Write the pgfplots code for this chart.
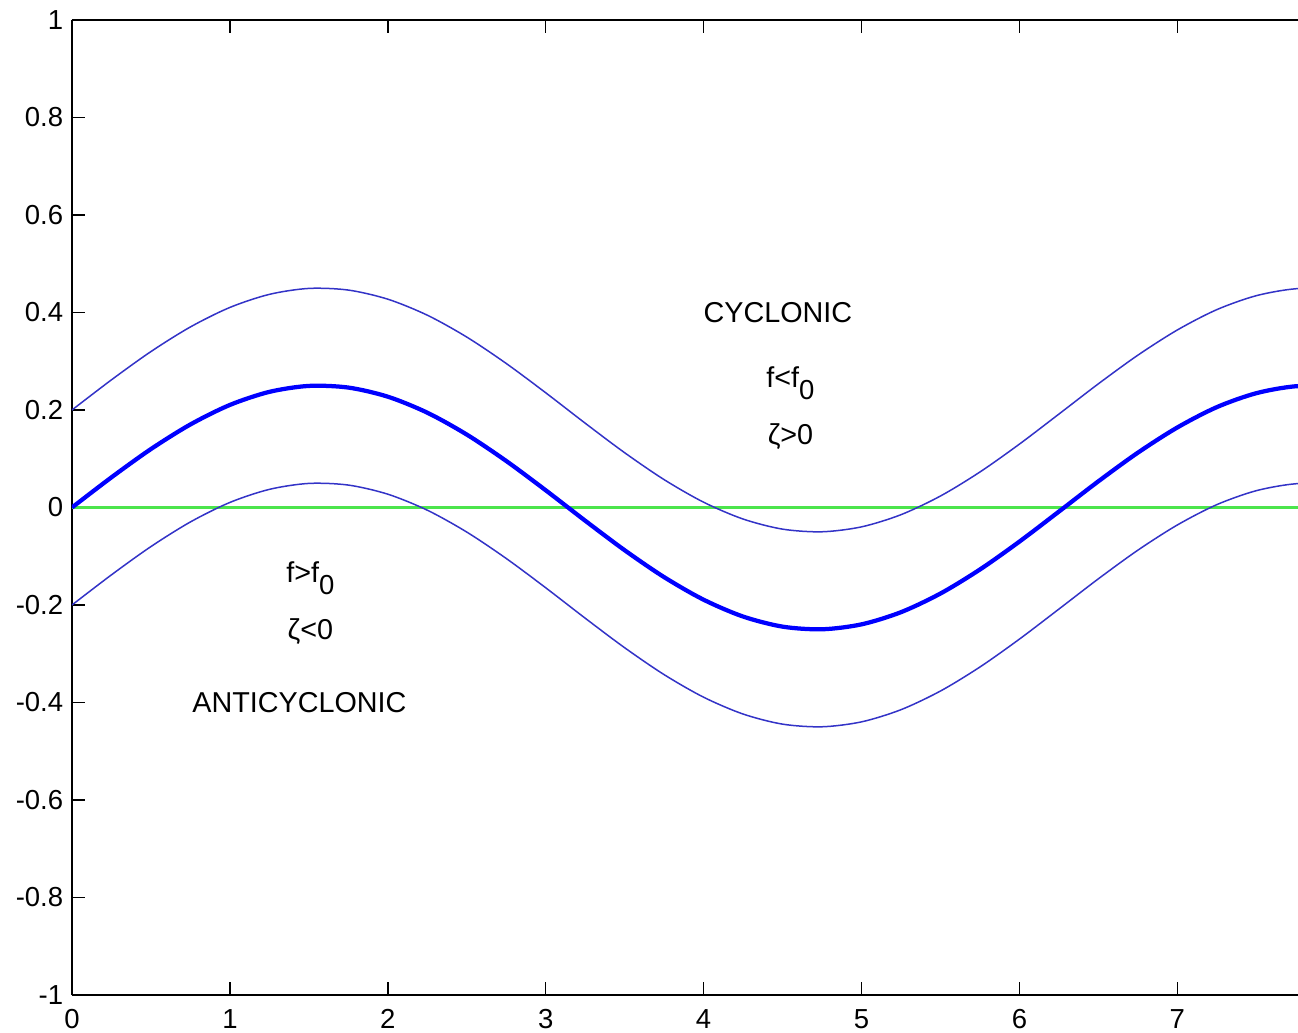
\documentclass[border=0pt]{standalone}
\usepackage{pgfplots}
\usepackage{pgfplotstable}
\usepackage{fontspec}
\setmainfont{Liberation Sans}
\pgfplotsset{compat=1.18}

\pgfplotstableread{
x     mid     up      low
0     0       0.2     -0.2
0.25  0.0619  0.2619  -0.1381
0.5   0.1199  0.3199  -0.0801
0.75  0.1704  0.3704  -0.0296
1.0   0.2104  0.4104  0.0104
1.25  0.2372  0.4372  0.0372
1.5   0.2494  0.4494  0.0494
1.75  0.2460  0.4460  0.0460
2.0   0.2273  0.4273  0.0273
2.25  0.1945  0.3945  -0.0055
2.5   0.1496  0.3496  -0.0504
2.75  0.0954  0.2954  -0.1046
3.0   0.0353  0.2353  -0.1647
3.25  -0.0271 0.1729  -0.2271
3.5   -0.0877 0.1123  -0.2877
3.75  -0.1429 0.0571  -0.3429
4.0   -0.1892 0.0108  -0.3892
4.25  -0.2237 -0.0237 -0.4237
4.5   -0.2444 -0.0444 -0.4444
4.75  -0.2498 -0.0498 -0.4498
5.0   -0.2397 -0.0397 -0.4397
5.25  -0.2147 -0.0147 -0.4147
5.5   -0.1764 0.0236  -0.3764
5.75  -0.1271 0.0729  -0.3271
6.0   -0.0699 0.1301  -0.2699
6.25  -0.0083 0.1917  -0.2083
6.5   0.0538  0.2538  -0.1462
6.75  0.1125  0.3125  -0.0875
7.0   0.1642  0.3642  -0.0358
7.25  0.2059  0.4059  0.0059
7.5   0.2345  0.4345  0.0345
7.75  0.2487  0.4487  0.0487
8.0   0.2473  0.4473  0.0473
}\wave

\definecolor{mblue}{rgb}{0,0,1}
\definecolor{tblue}{rgb}{0.2,0.2,0.78}
\definecolor{mgreen}{rgb}{0.3,0.9,0.3}

\newcommand{\sub}[1]{\raisebox{-4.5pt}{\fontsize{11}{12}\selectfont #1}}

\begin{document}
\begin{tikzpicture}[every node/.style={font=\fontsize{11.5}{13}\selectfont}]
\begin{axis}[
    name=ax,
    scale only axis,
    width=490.4pt, height=390pt,
    xmin=0, xmax=7.764,
    ymin=-1, ymax=1,
    separate axis lines,
    axis x line*=box,
    axis y line*=left,
    axis line style={black, line width=0.6pt},
    xtick={0,1,...,7},
    ytick={-1,-0.8,...,1},
    tick align=inside,
    major tick length=5.3pt,
    tick style={black, line width=0.6pt},
    yticklabel style={/pgf/number format/fixed, /pgf/number format/precision=1},
    xticklabel style={yshift=-2.2pt},
    /pgf/number format/assume math mode=true,
    ticklabel style={font=\fontsize{11}{13}\selectfont},
    clip=true,
]
\addplot[draw=mgreen, line width=0.9pt] coordinates {(0,0) (8,0)};
\addplot[draw=tblue, line width=0.6pt, smooth] table[x=x, y=up] {\wave};
\addplot[draw=tblue, line width=0.6pt, smooth] table[x=x, y=low] {\wave};
\addplot[draw=mblue, line width=1.7pt, smooth] table[x=x, y=mid] {\wave};

\node at (axis cs:4.47,0.40) {CYCLONIC};
\node at (axis cs:4.55,0.255) {f<f\sub{0}};
\node at (axis cs:4.55,0.145) {ζ>0};
\node at (axis cs:1.51,-0.145) {f>f\sub{0}};
\node at (axis cs:1.51,-0.255) {ζ<0};
\node at (axis cs:1.44,-0.40) {ANTICYCLONIC};
\end{axis}
\pgfresetboundingbox
\path[use as bounding box] ([shift={(-28.8pt,-14.8pt)}]ax.south west) rectangle ([shift={(0pt,8pt)}]ax.north east);
\end{tikzpicture}
\end{document}
